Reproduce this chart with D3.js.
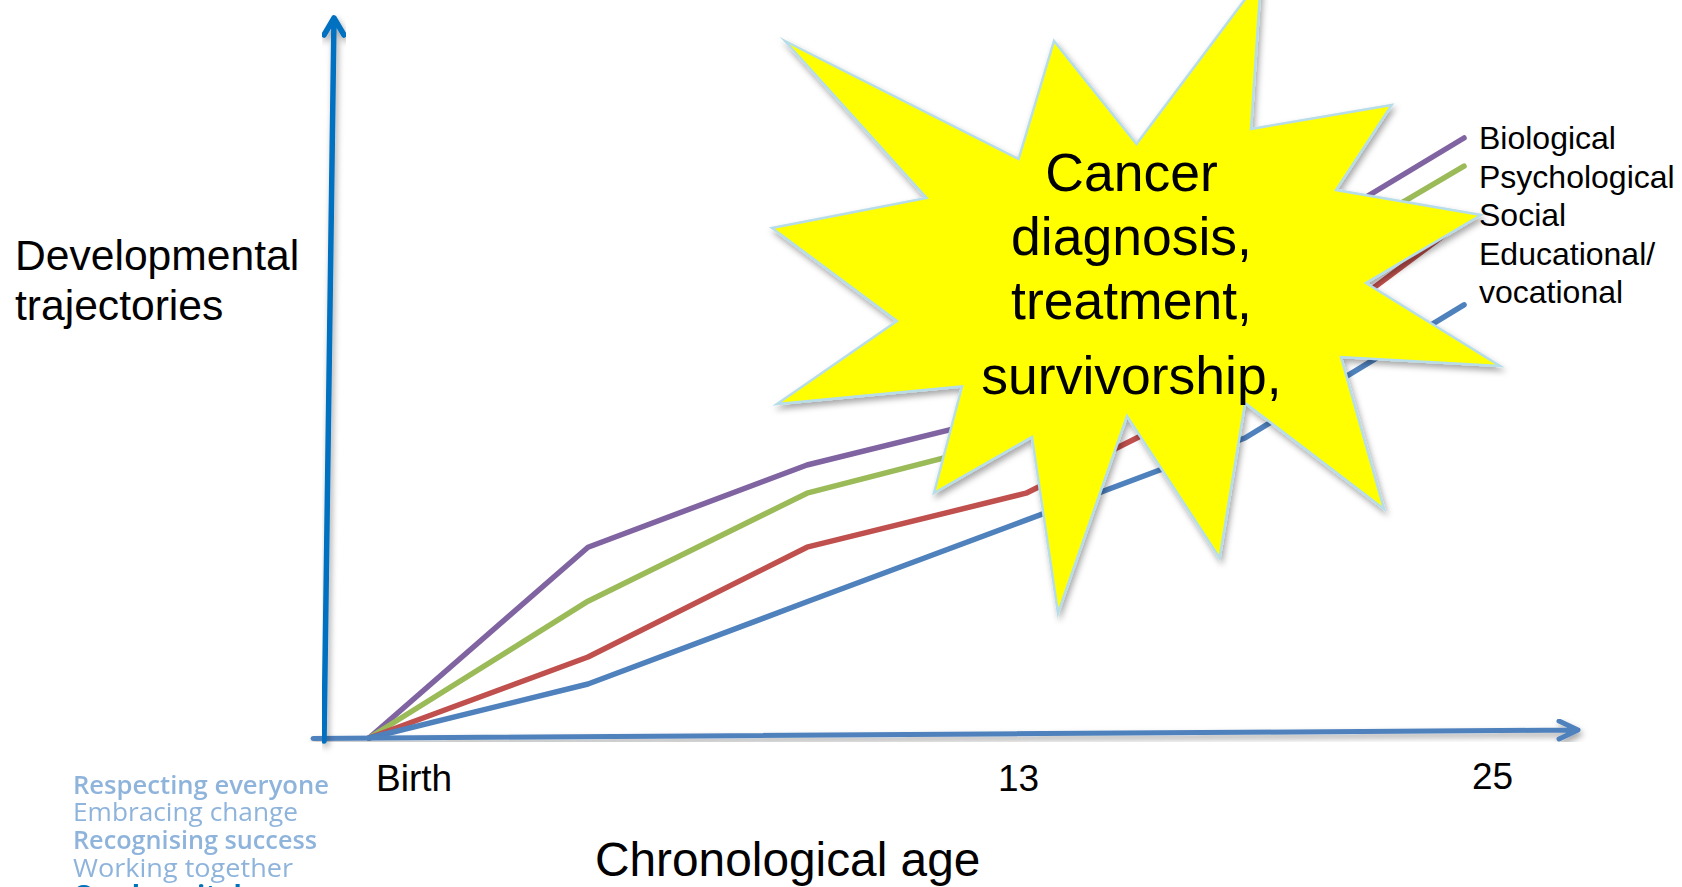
<!DOCTYPE html>
<html><head><meta charset="utf-8">
<script src="https://cdnjs.cloudflare.com/ajax/libs/d3/7.8.5/d3.min.js"></script>
<style>html,body{margin:0;padding:0;background:#fff;overflow:hidden}svg{display:block}text{font-family:"Liberation Sans",Arial,sans-serif;fill:#000}</style>
</head><body><svg id="c" width="1682" height="887"></svg>
<script>
const stages = [0, 1, 2, 3, 4, 5];
const biological = [0, 31.8, 45.5, 54.5, 78, 100];
const psychological = [0, 22.8, 40.8, 50.2, 73.8, 95.3];
const social = [0, 13.5, 31.8, 40.8, 59, 86.3];
const educational = [0, 9, 22.7, 36.3, 50, 72.2];
const seriesNames = ["Biological", "Psychological", "Social", "Educational/vocational"];
const seriesColors = ["#8064a2", "#9bbb59", "#c0504d", "#4f81bd"];
const legendLines = ["Biological", "Psychological", "Social", "Educational/", "vocational"];
const tickLabels = ["Birth", "13", "25"];
const yTitle = ["Developmental", "trajectories"];
const xTitle = "Chronological age";
const burstLines = ["Cancer", "diagnosis,", "treatment,", "survivorship,"];
const valueLines = ["Respecting everyone", "Embracing change", "Recognising success", "Working together", "Our hospitals."];
const burstOutline = [[785,41],[1018.6,159],[1054,41],[1136.5,144],[1261,-22],[1251,129],[1391.7,105],[1336,190],[1481,215],[1366,283],[1500,366],[1341,357],[1384,509],[1245,403],[1219.6,558],[1127,416],[1058,613],[1032,437],[934,493],[962,386.5],[777,404],[897,321],[772,228],[926.6,198]];

const svg = d3.select("#c");
const x = d3.scaleLinear().domain([0, 5]).range([369, 1464]);
const y = d3.scaleLinear().domain([0, 100]).range([738, 138]);
const defs = svg.append("defs");
const shadow = (id, dx, dy, sd, op) => {
  const f = defs.append("filter").attr("id", id).attr("x", "-10%").attr("y", "-10%").attr("width", "120%").attr("height", "125%");
  f.append("feDropShadow").attr("dx", dx).attr("dy", dy).attr("stdDeviation", sd).attr("flood-color", "#000").attr("flood-opacity", op);
};
shadow("sh", 2, 4, 3, 0.35);
defs.append("filter").attr("id", "soft").append("feGaussianBlur").attr("stdDeviation", 0.45);

const line = d3.line().x((d, i) => x(stages[i])).y(d => y(d));
[biological, psychological, social, educational].forEach((s, i) => {
  svg.append("path").datum(s).attr("d", line).attr("fill", "none")
    .attr("stroke", seriesColors[i]).attr("stroke-width", 5.5)
    .attr("stroke-linecap", "round").attr("stroke-linejoin", "round")
    .attr("data-series", seriesNames[i]);
});

// axes with open arrow heads
const axisG = svg.append("g").attr("fill", "none").attr("stroke-linecap", "round").attr("stroke-linejoin", "round");
axisG.append("path").attr("stroke", "#4f81bd").attr("stroke-width", 5).attr("filter", "url(#sh)")
  .attr("d", `M${x(0)-56},${y(0)+0.5}L${x(5)+114},${y(0)-8}M${x(5)+95},${y(0)-17}L${x(5)+114},${y(0)-8}L${x(5)+95},${y(0)+1}`);
axisG.append("path").attr("stroke", "#0070c0").attr("stroke-width", 5.5).attr("filter", "url(#sh)")
  .attr("d", `M${x(0)-45},${y(0)+3}L${x(0)-35},${y(100)-120}M${x(0)-45},${y(100)-103}L${x(0)-35},${y(100)-120}L${x(0)-25},${y(100)-103}`);

svg.append("path").attr("d", d3.line()(burstOutline) + "Z")
  .attr("fill", "#ffff00").attr("stroke", "#b7dde8").attr("stroke-width", 2.5)
  .attr("stroke-linejoin", "miter").attr("stroke-miterlimit", 20).attr("filter", "url(#sh)");

const tickX = d3.scaleOrdinal().domain(tickLabels).range([376, 998, 1472]);
const tickY = d3.scaleOrdinal().domain(tickLabels).range([791, 791, 789]);
svg.append("g").selectAll("text").data(tickLabels).join("text")
  .attr("x", d => tickX(d)).attr("y", d => tickY(d)).attr("font-size", 37).text(d => d);

svg.append("g").selectAll("text").data(yTitle).join("text")
  .attr("x", 15).attr("y", (d, i) => 270 + i * 50).attr("font-size", 42.6).text(d => d);
svg.append("text").attr("x", 595).attr("y", 876).attr("font-size", 47.8).text(xTitle);

svg.append("g").selectAll("text").data(legendLines).join("text")
  .attr("x", 1479).attr("y", (d, i) => 149 + i * 38.6).attr("font-size", 32).text(d => d);

const burstBase = [191, 255, 319, 394];
svg.append("g").selectAll("text").data(burstLines).join("text")
  .attr("x", 1131.5).attr("y", (d, i) => burstBase[i]).attr("text-anchor", "middle").attr("font-size", 53.5).text(d => d);

const valueWidths = [256, 225, 244, 220, 190];
const valueBase = [794, 821, 849, 877, 903];
const g = svg.append("g").attr("filter", "url(#soft)");
g.selectAll("text").data(valueLines).join("text")
  .attr("x", 73).attr("y", (d, i) => valueBase[i])
  .attr("font-size", (d, i) => i % 2 === 0 ? 25.5 : 26.2)
  .attr("textLength", (d, i) => valueWidths[i]).attr("lengthAdjust", "spacingAndGlyphs")
  .style("font-family", '"Open Sans"')
  .style("fill", (d, i) => i === 4 ? "#0072bc" : "#8fb4dc")
  .attr("font-weight", (d, i) => i === 4 ? 700 : i % 2 === 0 ? 600 : 400)
  .text(d => d);
</script></body></html>
